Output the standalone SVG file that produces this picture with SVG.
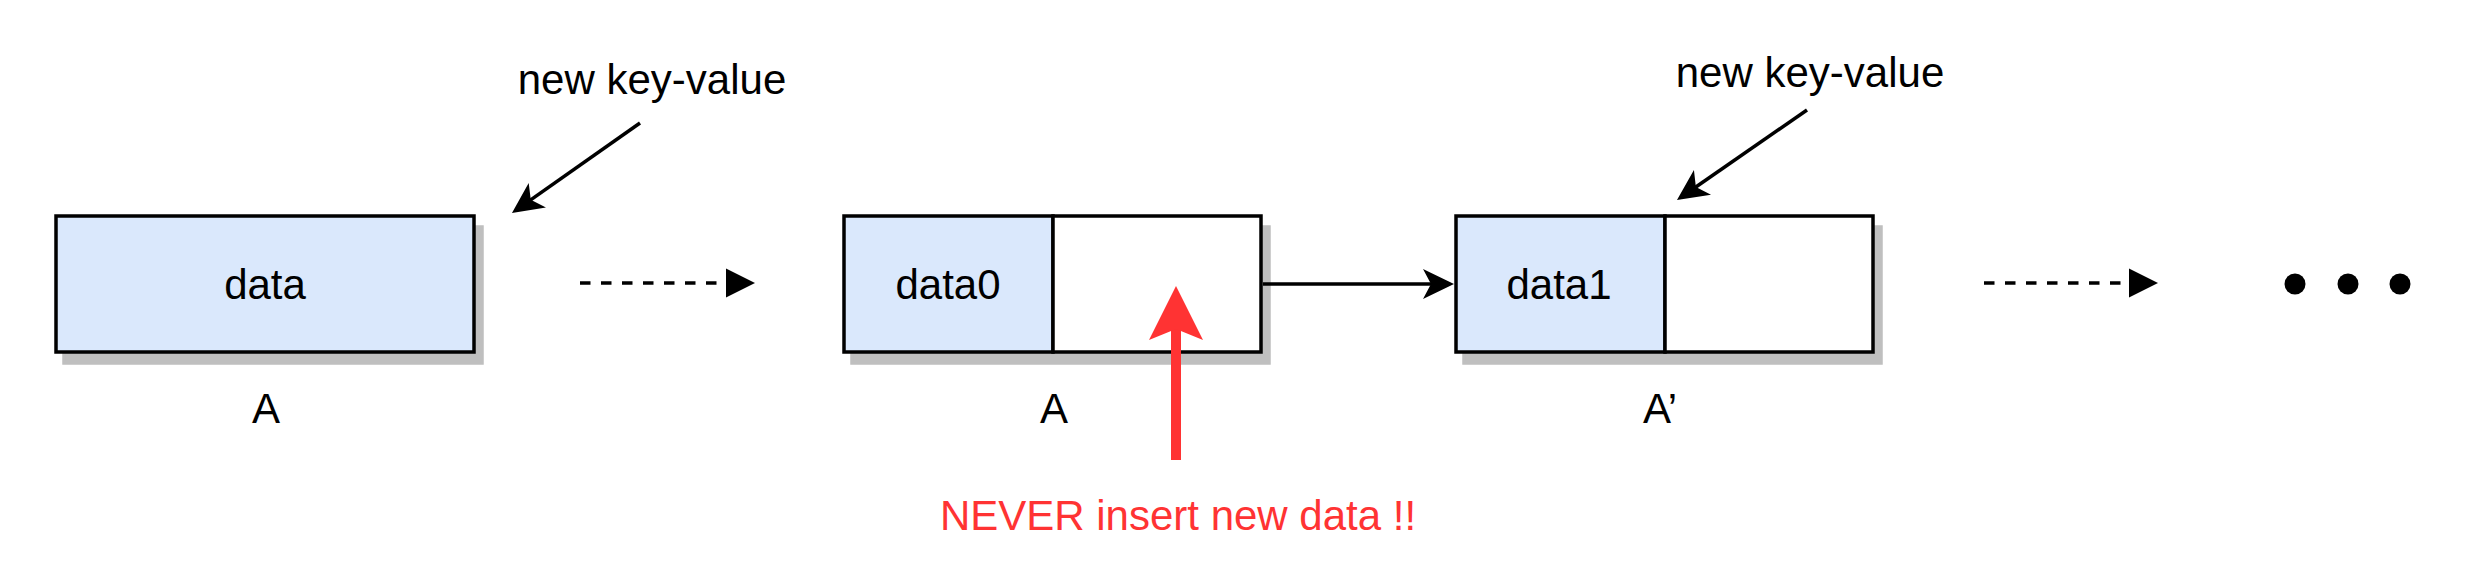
<svg xmlns="http://www.w3.org/2000/svg" width="2482" height="584" viewBox="0 0 2482 584">
  <style>
    .lbl { font-family: "Liberation Sans", Arial, Helvetica, sans-serif; font-size: 42px; fill: #000000; text-anchor: middle; }
    .red { fill: #ff3333; }
    .cellBlue { fill: #dae8fc; stroke: #000000; stroke-width: 3.5; }
    .cellWhite { fill: #ffffff; stroke: #000000; stroke-width: 3.5; }
    .shadow { fill: #bfbfbf; stroke: #bfbfbf; stroke-width: 3.5; }
    .edge { fill: none; stroke: #000000; stroke-width: 3.5; }
    .dashed { stroke-dasharray: 10.5 10.5; }
  </style>
  <defs>
    <marker id="classic" markerUnits="userSpaceOnUse" markerWidth="40" markerHeight="40" refX="12" refY="15" orient="auto" overflow="visible">
      <path d="M0,0 L31,15 L0,30 L8,15 Z" fill="#000000"/>
    </marker>
    <marker id="block" markerUnits="userSpaceOnUse" markerWidth="40" markerHeight="40" refX="0" refY="14.5" orient="auto" overflow="visible">
      <path d="M0,0 L29,14.5 L0,29 Z" fill="#000000"/>
    </marker>
    <marker id="redHead" markerUnits="userSpaceOnUse" markerWidth="60" markerHeight="60" refX="16" refY="27" orient="auto" overflow="visible">
      <path d="M0,0 L54,27 L0,54 L11,27 Z" fill="#ff3333"/>
    </marker>
  </defs>

  <rect width="2482" height="584" fill="#ffffff"/>

  <g id="node-data">
    <rect class="shadow" x="64" y="227" width="418" height="136"/>
    <rect class="cellBlue" x="56" y="216" width="418" height="136"/>
    <text class="lbl" x="265" y="299">data</text>
  </g>

  <g id="label-A1">
    <text class="lbl" x="266" y="423">A</text>
  </g>

  <g id="node-data0">
    <rect class="shadow" x="852" y="227" width="417" height="136"/>
    <rect class="cellBlue" x="844" y="216" width="209" height="136"/>
    <rect class="cellWhite" x="1053" y="216" width="208" height="136"/>
    <text class="lbl" x="948" y="299">data0</text>
  </g>

  <g id="label-A2">
    <text class="lbl" x="1054" y="423">A</text>
  </g>

  <g id="node-data1">
    <rect class="shadow" x="1464" y="227" width="417" height="136"/>
    <rect class="cellBlue" x="1456" y="216" width="209" height="136"/>
    <rect class="cellWhite" x="1665" y="216" width="208" height="136"/>
    <text class="lbl" x="1559" y="299">data1</text>
  </g>

  <g id="label-A3">
    <text class="lbl" x="1660" y="423">A’</text>
  </g>

  <g id="label-new1">
    <text class="lbl" x="652" y="94">new key-value</text>
  </g>

  <g id="label-new2">
    <text class="lbl" x="1810" y="87">new key-value</text>
  </g>

  <g id="label-never">
    <text class="lbl red" x="1178" y="530">NEVER insert new data !!</text>
  </g>

  <g id="ellipsis">
    <circle cx="2295" cy="284" r="10.5" fill="#000000"/>
    <circle cx="2348" cy="284" r="10.5" fill="#000000"/>
    <circle cx="2400" cy="284" r="10.5" fill="#000000"/>
  </g>

  <g id="connectors">
    <line class="edge" x1="640" y1="123" x2="527.5" y2="202.1" marker-end="url(#classic)"/>
    <line class="edge" x1="1807" y1="110" x2="1692.6" y2="189.2" marker-end="url(#classic)"/>
    <line class="edge" x1="1263" y1="284" x2="1435" y2="284" marker-end="url(#classic)"/>
    <line class="edge dashed" x1="580" y1="283" x2="726" y2="283" marker-end="url(#block)"/>
    <line class="edge dashed" x1="1984" y1="283" x2="2129" y2="283" marker-end="url(#block)"/>
    <line x1="1176" y1="460" x2="1176" y2="324" stroke="#ff3333" stroke-width="10" marker-end="url(#redHead)"/>
  </g>
</svg>
